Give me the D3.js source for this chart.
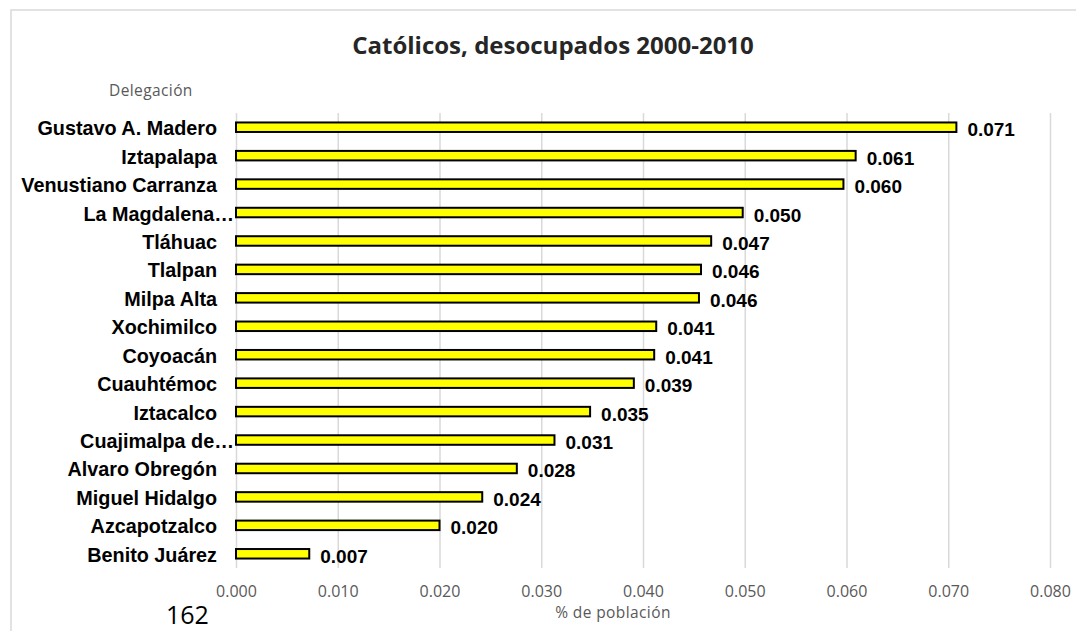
<!DOCTYPE html>
<html>
<head>
<meta charset="utf-8">
<script src="https://cdn.jsdelivr.net/npm/d3@7"></script>
<style>
  html, body { margin: 0; padding: 0; background: #ffffff; }
  svg { display: block; }
</style>
</head>
<body>
<svg id="chart" width="1076" height="631"></svg>
<script>
const title = "Católicos, desocupados 2000-2010";
const yAxisTitle = "Delegación";
const xAxisTitle = "% de población";
const pageNumber = "162";
const categories = [
  "Gustavo A. Madero", "Iztapalapa", "Venustiano Carranza", "La Magdalena…",
  "Tláhuac", "Tlalpan", "Milpa Alta", "Xochimilco", "Coyoacán", "Cuauhtémoc",
  "Iztacalco", "Cuajimalpa de…", "Alvaro Obregón", "Miguel Hidalgo",
  "Azcapotzalco", "Benito Juárez"
];
const values = [
  0.0708, 0.0609, 0.0597, 0.0498, 0.0467, 0.0457, 0.0455, 0.0413,
  0.0411, 0.0391, 0.0348, 0.0313, 0.0276, 0.0242, 0.0200, 0.0072
];
const valueLabels = [
  "0.071", "0.061", "0.060", "0.050", "0.047", "0.046", "0.046", "0.041",
  "0.041", "0.039", "0.035", "0.031", "0.028", "0.024", "0.020", "0.007"
];
const tickValues = [0, 0.01, 0.02, 0.03, 0.04, 0.05, 0.06, 0.07, 0.08];
const tickLabels = ["0.000", "0.010", "0.020", "0.030", "0.040", "0.050", "0.060", "0.070", "0.080"];

const svg = d3.select("#chart");

// outer chart frame
svg.append("rect")
  .attr("x", 11).attr("y", 10)
  .attr("width", 1080).attr("height", 640)
  .attr("fill", "none")
  .attr("stroke", "#d9d9d9")
  .attr("stroke-width", 1.5);

const plot = { left: 236, right: 1050, top: 113, bottom: 568 };

const x = d3.scaleLinear().domain([0, 0.08]).range([plot.left, plot.right]);
const y = d3.scaleBand().domain(categories).range([plot.top, plot.bottom]).paddingInner(0.6).paddingOuter(0.3);

// gridlines
const xAxis = d3.axisBottom(x)
  .tickValues(tickValues)
  .tickFormat((d, i) => tickLabels[i])
  .tickSize(-(plot.bottom - plot.top))
  .tickPadding(29);

const gx = svg.append("g")
  .attr("transform", `translate(0,${plot.bottom})`)
  .call(xAxis);
gx.select(".domain").remove();
gx.selectAll(".tick line")
  .attr("stroke", "#d9d9d9")
  .attr("stroke-width", 1.5);
gx.selectAll(".tick text")
  .attr("fill", "#595959")
  .attr("font-family", "'Open Sans', sans-serif")
  .attr("font-size", "16px")
  .attr("dy", 0);

// bars
const barH = 9.5;
svg.append("g").selectAll("rect")
  .data(categories)
  .join("rect")
  .attr("x", x(0))
  .attr("y", (d) => y(d) + y.bandwidth() / 2 - barH / 2)
  .attr("width", (d, i) => x(values[i]) - x(0))
  .attr("height", barH)
  .attr("fill", "#ffff00")
  .attr("stroke", "#000000")
  .attr("stroke-width", 2);

// category labels (truncated ones run up to the bar)
svg.append("g").selectAll("text")
  .data(categories)
  .join("text")
  .attr("x", (d) => d.endsWith("…") ? 234 : 217)
  .attr("y", (d) => y(d) + y.bandwidth() / 2 + 8)
  .attr("text-anchor", "end")
  .attr("font-family", "'Liberation Sans', Arial, sans-serif")
  .attr("font-weight", "bold")
  .attr("font-size", "19.8px")
  .attr("fill", "#000")
  .text((d) => d);

// value labels
svg.append("g").selectAll("text")
  .data(categories)
  .join("text")
  .attr("x", (d, i) => x(values[i]) + 11)
  .attr("y", (d) => y(d) + y.bandwidth() / 2 + 9)
  .attr("font-family", "'Liberation Sans', Arial, sans-serif")
  .attr("font-weight", "bold")
  .attr("font-size", "19px")
  .attr("fill", "#000")
  .text((d, i) => valueLabels[i]);

// title
svg.append("text")
  .attr("x", 553).attr("y", 54)
  .attr("text-anchor", "middle")
  .attr("font-family", "'Open Sans', sans-serif")
  .attr("font-weight", "bold")
  .attr("font-size", "24px")
  .attr("fill", "#262626")
  .text(title);

// y axis title
svg.append("text")
  .attr("x", 109).attr("y", 96)
  .attr("font-family", "'Open Sans', sans-serif")
  .attr("font-size", "15.5px")
  .attr("letter-spacing", "0.4px")
  .attr("fill", "#595959")
  .text(yAxisTitle);

// x axis title
svg.append("text")
  .attr("x", 613).attr("y", 618)
  .attr("text-anchor", "middle")
  .attr("font-family", "'Open Sans', sans-serif")
  .attr("font-size", "15.5px")
  .attr("letter-spacing", "0.4px")
  .attr("fill", "#595959")
  .text(xAxisTitle);

// page number
svg.append("text")
  .attr("x", 166).attr("y", 624)
  .attr("font-family", "'Open Sans', sans-serif")
  .attr("font-size", "25px")
  .attr("fill", "#000")
  .text(pageNumber);
</script>
</body>
</html>
